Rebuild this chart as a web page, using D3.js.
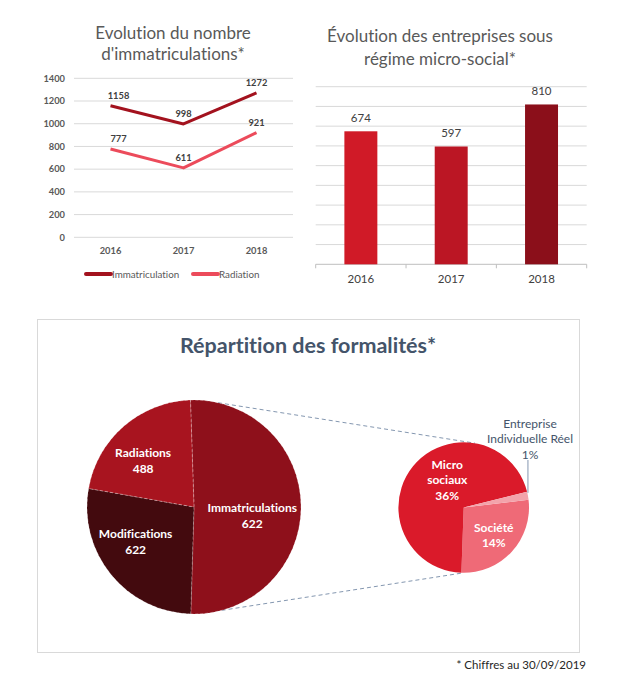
<!DOCTYPE html>
<meta charset="utf-8">
<title>Formalités</title>
<style>
  body { margin: 0; background: #fff; }
  text { font-family: Lato, "Noto Sans", sans-serif; font-variant-ligatures: none; }
</style>
<body>
<script src="https://d3js.org/d3.v7.min.js"></script>
<script>
    // data
    const years = ["2016", "2017", "2018"];
    const immatriculations = [1158, 998, 1272];
    const radiations = [777, 611, 921];
    const microSocial = [674, 597, 810];
    const lineTicks = [0, 200, 400, 600, 800, 1000, 1200, 1400];
    const barTicks = [0, 100, 200, 300, 400, 500, 600, 700, 800, 900];

    const formalites = ["Immatriculations", "Modifications", "Radiations"];
    const formaliteLabels = ["622", "622", "488"];
    const formaliteShares = [51, 27.3, 21.7];

    const immatTypes = ["Société", "Micro sociaux", "Entreprise Individuelle Réel"];
    const immatShares = [14, 36, 1];

    var width = 619, height = 679;
    var grey = "#595959", slate = "#44546a";

    var svg = d3.select("body").append("svg")
        .attr("width", width)
        .attr("height", height);

    // ---------- line chart ----------
    var x1 = d3.scalePoint().domain(years).range([74, 293]).padding(0.5);
    var y1 = d3.scaleLinear().domain([0, 1400]).range([237.3, 78.3]);

    var g1 = svg.append("g");
    g1.selectAll("text.t1")
        .data(["Evolution du nombre", "d'immatriculations*"])
        .join("text")
        .attr("x", 173).attr("y", (d, i) => 39 + i * 21)
        .attr("text-anchor", "middle")
        .attr("font-size", 17).attr("fill", grey)
        .text(d => d);

    g1.selectAll("line.grid")
        .data(lineTicks)
        .join("line")
        .attr("x1", 74).attr("x2", 293)
        .attr("y1", d => y1(d)).attr("y2", d => y1(d))
        .attr("stroke", "#d9d9d9");

    g1.selectAll("text.ytick")
        .data(lineTicks)
        .join("text")
        .attr("x", 65).attr("y", d => y1(d) + 3.2)
        .attr("text-anchor", "end")
        .attr("font-size", 9.3).attr("font-weight", "bold").attr("fill", grey)
        .text(d => d);

    g1.selectAll("text.xtick")
        .data(years)
        .join("text")
        .attr("x", d => x1(d)).attr("y", 254)
        .attr("text-anchor", "middle")
        .attr("font-size", 9.3).attr("font-weight", "bold").attr("fill", grey)
        .text(d => d);

    var series = [
        {name: "Immatriculation", values: immatriculations, color: "#a3121e"},
        {name: "Radiation", values: radiations, color: "#ec4b5b"}
    ];
    var labelDx = [8, 0, 0];
    var line = d3.line().x((d, i) => x1(years[i])).y(d => y1(d));

    series.forEach(function(s, k) {
        g1.append("path")
            .attr("d", line(s.values))
            .attr("fill", "none")
            .attr("stroke", s.color)
            .attr("stroke-width", 3)
            .attr("stroke-linejoin", "round");
        g1.selectAll("text.lab" + k)
            .data(s.values)
            .join("text")
            .attr("x", (d, i) => x1(years[i]) + labelDx[i])
            .attr("y", d => y1(d) - 7)
            .attr("text-anchor", "middle")
            .attr("font-size", 9.3).attr("font-weight", "bold").attr("fill", "#404040")
            .text(d => d);
        // legend
        var lx = 86 + k * 107;
        g1.append("line")
            .attr("x1", lx).attr("x2", lx + 25)
            .attr("y1", 274).attr("y2", 274)
            .attr("stroke", s.color).attr("stroke-width", 4)
            .attr("stroke-linecap", "round");
        g1.append("text")
            .attr("x", lx + 26).attr("y", 277.5)
            .attr("font-size", 9.8).attr("fill", grey)
            .text(s.name);
    });

    // ---------- bar chart ----------
    var x2 = d3.scaleBand().domain(years).range([315.7, 586.7])
        .paddingInner(0.635).paddingOuter(0.3175);
    var y2 = d3.scaleLinear().domain([0, 900]).range([264.3, 86.7]);
    var barColors = ["#d01a27", "#bb1624", "#8b0f1a"];

    var g2 = svg.append("g");
    g2.selectAll("text.t2")
        .data(["Évolution des entreprises sous", "régime micro-social*"])
        .join("text")
        .attr("x", 440).attr("y", (d, i) => 42 + i * 23)
        .attr("text-anchor", "middle")
        .attr("font-size", 17).attr("fill", grey)
        .text(d => d);

    g2.selectAll("line.grid")
        .data(barTicks)
        .join("line")
        .attr("x1", 315.7).attr("x2", 586.7)
        .attr("y1", d => y2(d)).attr("y2", d => y2(d))
        .attr("stroke", d => d === 0 ? "#bfbfbf" : "#d9d9d9");

    g2.selectAll("line.tick")
        .data([0, 1, 2, 3])
        .join("line")
        .attr("x1", i => 315.7 + i * x2.step()).attr("x2", i => 315.7 + i * x2.step())
        .attr("y1", y2(0)).attr("y2", y2(0) + 4)
        .attr("stroke", "#bfbfbf");

    g2.selectAll("rect")
        .data(microSocial)
        .join("rect")
        .attr("x", (d, i) => x2(years[i]))
        .attr("width", x2.bandwidth())
        .attr("y", d => y2(d))
        .attr("height", d => y2(0) - y2(d))
        .attr("fill", (d, i) => barColors[i]);

    g2.selectAll("text.val")
        .data(microSocial)
        .join("text")
        .attr("x", (d, i) => x2(years[i]) + x2.bandwidth() / 2)
        .attr("y", d => y2(d) - 9)
        .attr("text-anchor", "middle")
        .attr("font-size", 11.5).attr("fill", "#404040")
        .text(d => d);

    g2.selectAll("text.xtick")
        .data(years)
        .join("text")
        .attr("x", d => x2(d) + x2.bandwidth() / 2).attr("y", 283)
        .attr("text-anchor", "middle")
        .attr("font-size", 11.5).attr("fill", "#404040")
        .text(d => d);

    // ---------- pie of pie ----------
    var g3 = svg.append("g");
    g3.append("rect")
        .attr("x", 37.5).attr("y", 319.5)
        .attr("width", 542).attr("height", 333)
        .attr("fill", "none").attr("stroke", "#d9d9d9");

    g3.append("text")
        .attr("x", 308).attr("y", 352.5)
        .attr("text-anchor", "middle")
        .attr("font-size", 21.5).attr("font-weight", "bold").attr("fill", slate)
        .text("Répartition des formalités*");

    var deg = Math.PI / 180;
    var big = {cx: 194, cy: 507, r: 107};
    var small = {cx: 463.7, cy: 507.5, r: 65.3};

    function pt(c, a) {
        return [c.cx + c.r * Math.sin(a * deg), c.cy - c.r * Math.cos(a * deg)];
    }

    // connector lines (angles read on each circle)
    var connectors = [[13, 10], [165, 180]];
    g3.selectAll("line.conn")
        .data(connectors)
        .join("line")
        .attr("x1", d => pt(big, d[0])[0]).attr("y1", d => pt(big, d[0])[1])
        .attr("x2", d => pt(small, d[1])[0]).attr("y2", d => pt(small, d[1])[1])
        .attr("stroke", "#8497b0").attr("stroke-width", 1)
        .attr("stroke-dasharray", "4,3");

    var bigArcs = d3.pie().sort(null)
        .startAngle(-1.9 * deg).endAngle((360 - 1.9) * deg)(formaliteShares);
    var bigColors = ["#8e101b", "#430a0e", "#a8141f"];
    var arc1 = d3.arc().innerRadius(0).outerRadius(big.r);
    var gb = g3.append("g").attr("transform", `translate(${big.cx},${big.cy})`);
    gb.selectAll("path")
        .data(bigArcs)
        .join("path")
        .attr("d", arc1)
        .attr("fill", (d, i) => bigColors[i])
        .attr("stroke", "rgba(255,255,255,0.45)")
        .attr("stroke-width", 0.7)
        .attr("stroke-dasharray", "3,2");

    var bigLabelPos = [[0.55, 98], [0.63, 240], [0.65, 313]]; // [radius fraction, angle]
    gb.selectAll("text.lab")
        .data(bigArcs)
        .join("text")
        .attr("text-anchor", "middle")
        .attr("font-size", 12).attr("font-weight", "bold").attr("fill", "#fff")
        .attr("transform", (d, i) => {
            var p = bigLabelPos[i];
            return `translate(${big.r * p[0] * Math.sin(p[1] * deg)},${-big.r * p[0] * Math.cos(p[1] * deg)})`;
        })
        .selectAll("tspan")
        .data((d, i) => [formalites[i], formaliteLabels[i]])
        .join("tspan")
        .attr("x", 0)
        .attr("dy", (d, j) => j === 0 ? -3 : 16)
        .text(d => d);

    var smallArcs = d3.pie().sort(null)
        .startAngle(83.2 * deg).endAngle((360 + 83.2) * deg)(immatShares);
    var smallColors = ["#ef6a77", "#da1a2a", "#f3a3ab"];
    var arc2 = d3.arc().innerRadius(0).outerRadius(small.r);
    var gs = g3.append("g").attr("transform", `translate(${small.cx},${small.cy})`);
    gs.selectAll("path")
        .data(smallArcs)
        .join("path")
        .attr("d", arc2)
        .attr("fill", (d, i) => smallColors[i]);

    var smallLabelPos = [[0.63, 133], [0.49, 329]];
    var smallLabelLines = [["Société", "14%"], ["Micro", "sociaux", "36%"]];
    gs.selectAll("text.lab")
        .data(smallLabelLines)
        .join("text")
        .attr("text-anchor", "middle")
        .attr("font-size", 12).attr("font-weight", "bold").attr("fill", "#fff")
        .attr("transform", (d, i) => {
            var p = smallLabelPos[i];
            return `translate(${small.r * p[0] * Math.sin(p[1] * deg)},${-small.r * p[0] * Math.cos(p[1] * deg)})`;
        })
        .selectAll("tspan")
        .data(d => d.map((t, j) => [t, j, d.length]))
        .join("tspan")
        .attr("x", 0)
        .attr("y", d => 4 + (d[1] - (d[2] - 1) / 2) * 15.5)
        .text(d => d[0]);

    // outside label for the 1% slice
    var ei = smallArcs[2];
    var eiAngle = (ei.startAngle + ei.endAngle) / 2 / deg;
    var ep = pt(small, eiAngle);
    g3.append("line")
        .attr("x1", ep[0]).attr("x2", ep[0])
        .attr("y1", ep[1] - 3).attr("y2", 460)
        .attr("stroke", "#8497b0").attr("stroke-width", 1);
    g3.append("text")
        .attr("text-anchor", "middle")
        .attr("font-size", 12).attr("fill", slate)
        .selectAll("tspan")
        .data(["Entreprise", "Individuelle Réel", immatShares[2] + "%"])
        .join("tspan")
        .attr("x", 530)
        .attr("y", (d, j) => 427.5 + j * 15.5)
        .text(d => d);

    svg.append("text")
        .attr("x", 586).attr("y", 669)
        .attr("text-anchor", "end")
        .attr("font-size", 11.5).attr("fill", "#262626")
        .text("* Chiffres au 30/09/2019");
</script>
</body>
